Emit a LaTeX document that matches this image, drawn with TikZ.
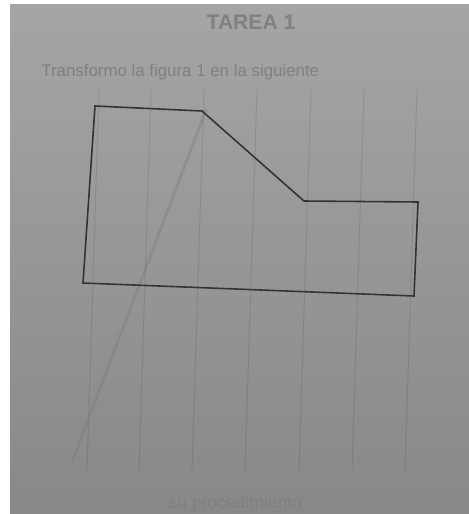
\documentclass[tikz,border=0pt]{standalone}
\usepackage{fontspec}
\setmainfont{Liberation Sans}
\usetikzlibrary{calc}

\definecolor{paperTop}{RGB}{165,165,165}
\definecolor{paperMid}{RGB}{186,186,186}
\definecolor{paperBot}{RGB}{136,136,136}
\definecolor{printInk}{RGB}{128,128,128}
\definecolor{pencilInk}{RGB}{120,120,120}

\tikzset{
  gridline/.style={black,opacity=0.09,line width=0.6pt},
  outline/.style={line width=0.9pt,black!80},
  printtext/.style={printInk,inner sep=0pt}
}

\begin{document}
\begin{tikzpicture}[x=0.02cm,y=-0.02cm]
\useasboundingbox (0,0) rectangle (469,514);
\fill[white] (0,0) rectangle (469,514);
\shade[top color=paperTop,middle color=paperMid,bottom color=paperBot]
    (10,4) rectangle (469,514);

% faint grid of the sheet
\foreach \x in {95, 147, 200, 253, 307, 360, 413}
	{
	\draw[gridline] (\x+4,90) -- (\x-8,470);
	}

% pencil stroke
\coordinate (pencilLow) at (72,462);
\coordinate (pencilHigh) at (206,110);
\draw[pencilInk,opacity=0.35,line width=1.6pt,line cap=round] (pencilLow) -- (pencilHigh);

% figure 1
\coordinate (site1) at (95,106);
\coordinate (site2) at (202,111);
\coordinate (site3) at (304,201);
\coordinate (site4) at (418,202);
\coordinate (site5) at (414,296);
\coordinate (site6) at (83,283);
\draw[outline,line join=miter] (site1) -- (site2) -- (site3) -- (site4)
    -- (site5) -- (site6) -- cycle;

% texts of the sheet
\node[printtext,font=\bfseries\fontsize{12}{14}\selectfont] (title) at (251,22) {TAREA 1};
\node[printtext,anchor=west,font=\fontsize{9.6}{11}\selectfont] (task) at (41,72)
    {Transformo la figura 1 en la siguiente};
\node[printtext,anchor=west,font=\fontsize{10}{12}\selectfont] (method) at (168,504)
    {su procedimiento};
\end{tikzpicture}
\end{document}
